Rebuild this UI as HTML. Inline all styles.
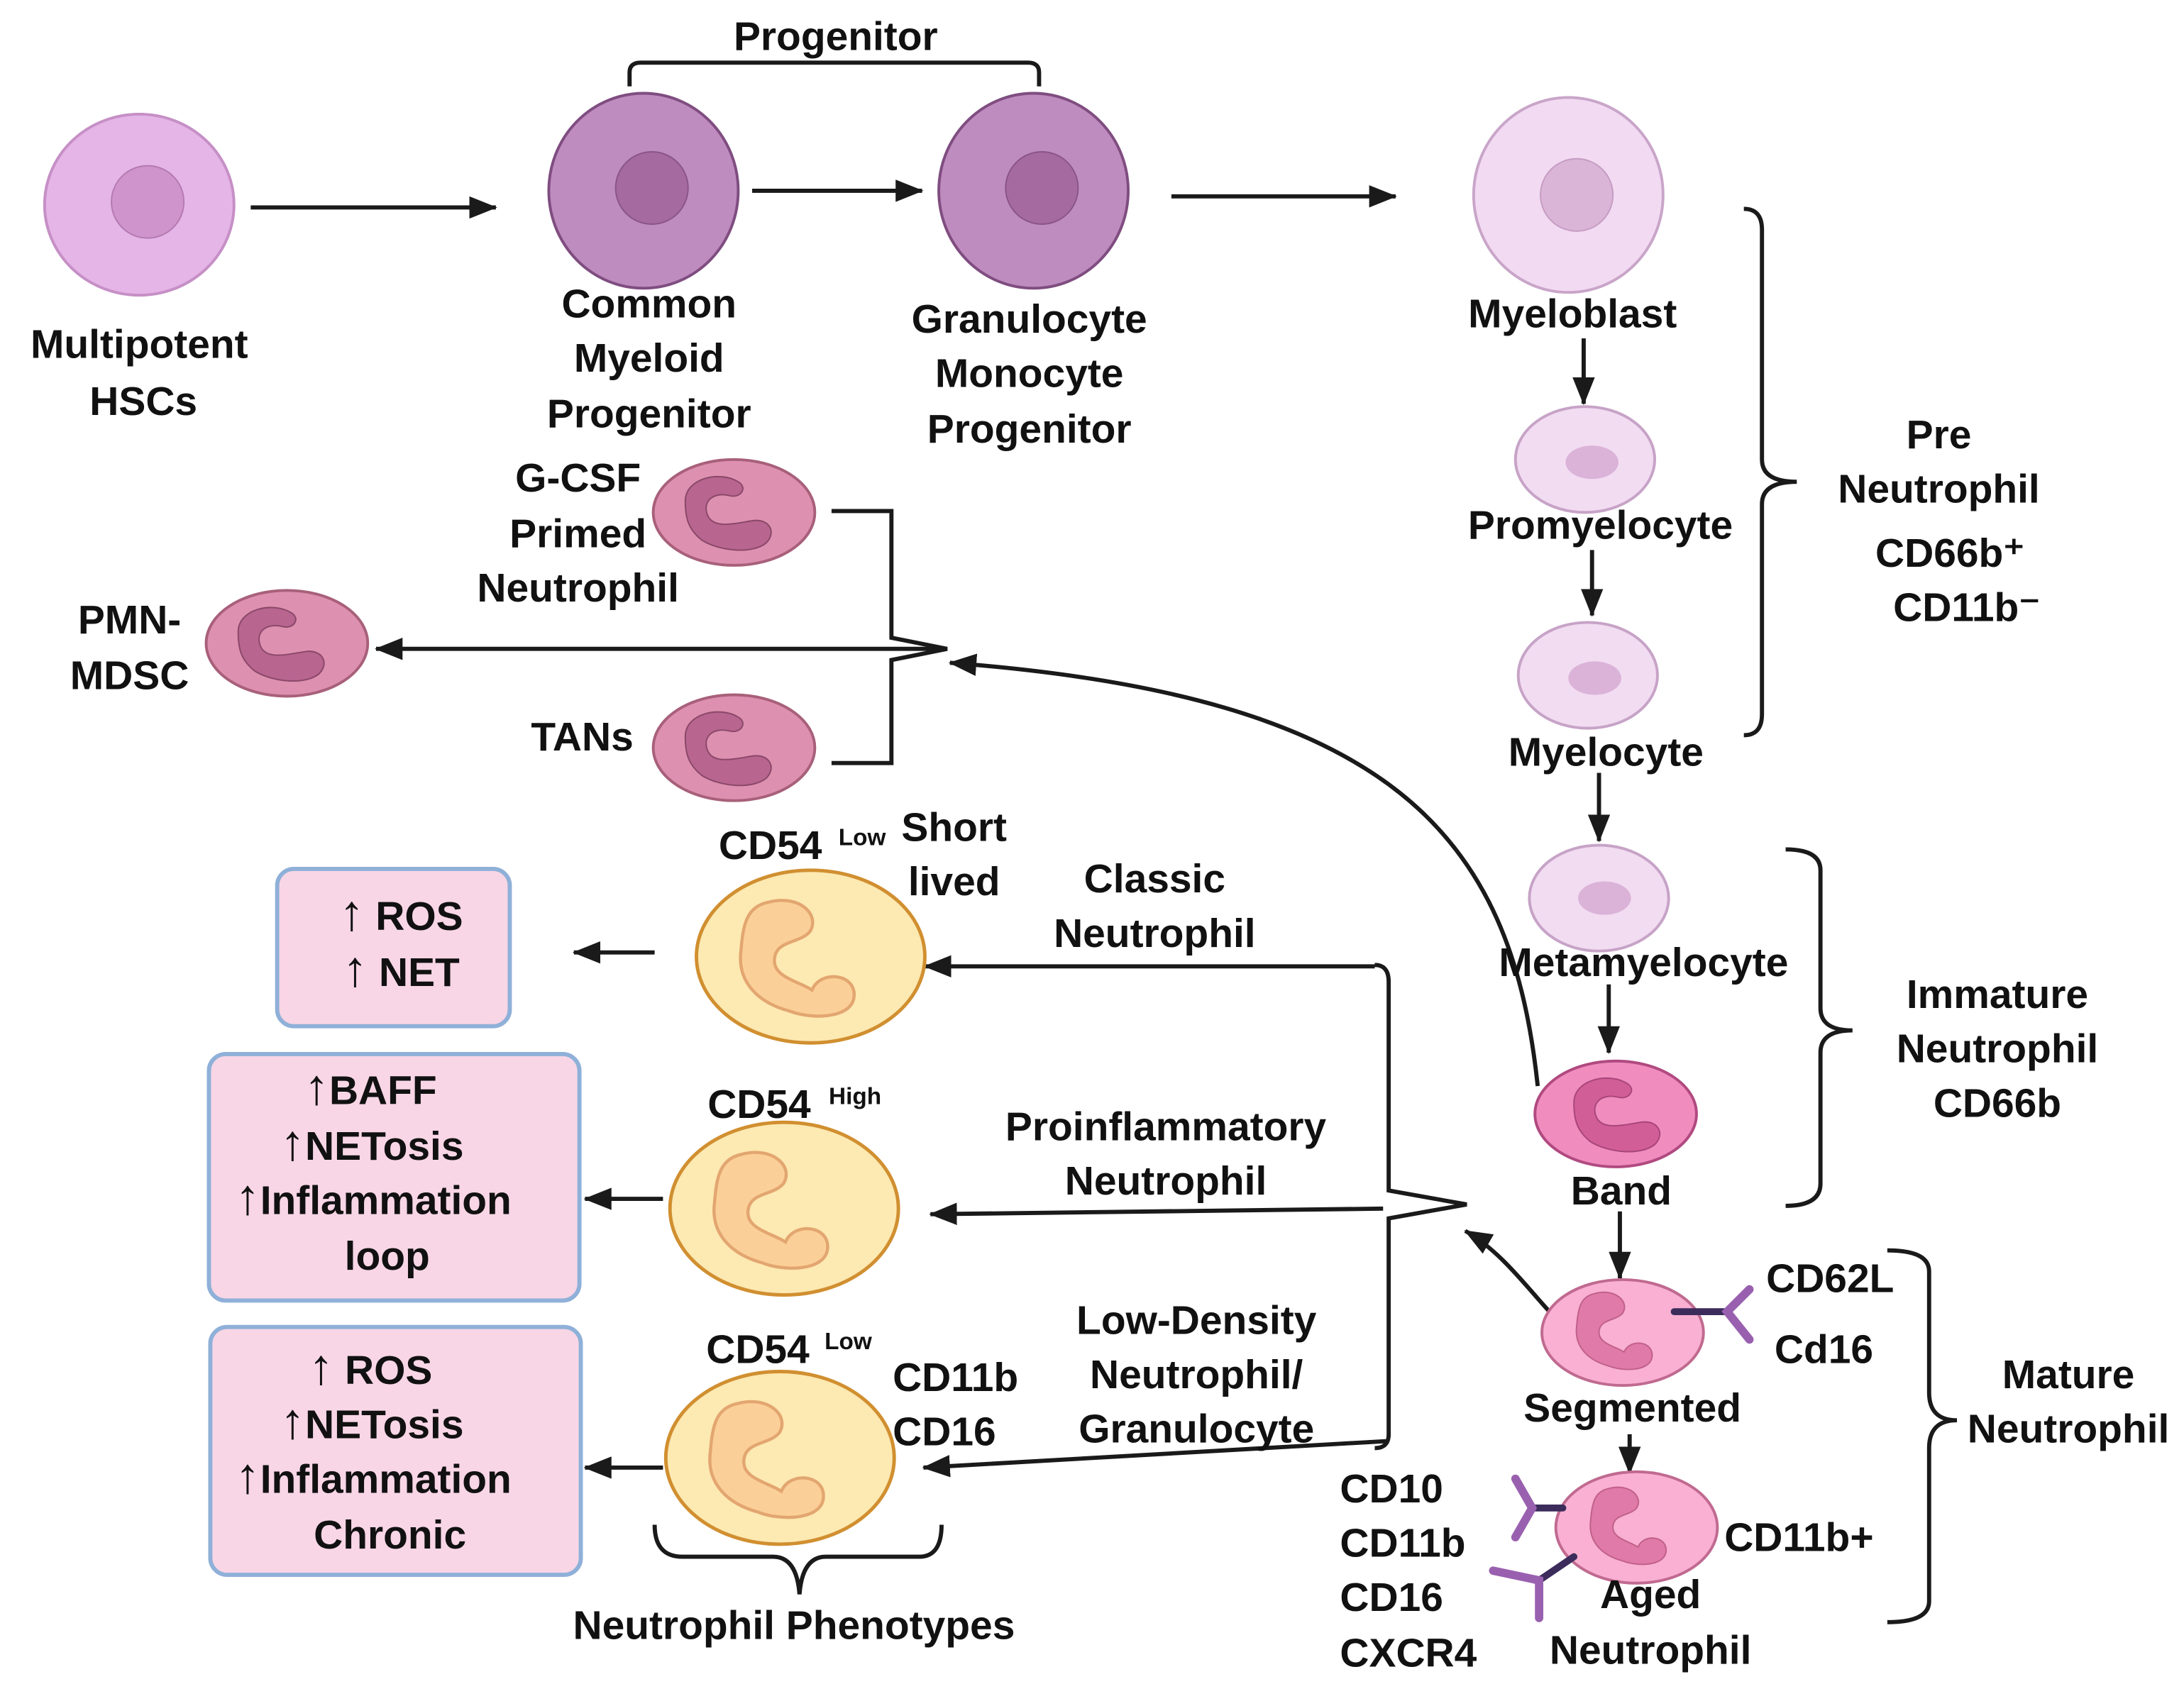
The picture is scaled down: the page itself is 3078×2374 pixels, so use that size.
<!DOCTYPE html>
<html><head><meta charset="utf-8"><style>
html,body{margin:0;padding:0;background:#fff}
svg{display:block}
text{font-family:"Liberation Sans",sans-serif;font-weight:bold;fill:#111}
</style></head><body>
<svg width="3078" height="2374" viewBox="0 0 1568 1209.4" preserveAspectRatio="none" xmlns="http://www.w3.org/2000/svg">
<defs>
<marker id="a2" markerWidth="20" markerHeight="16" refX="19" refY="8" orient="auto" markerUnits="userSpaceOnUse" viewBox="0 0 20 16"><path d="M0,0 L20,8 L0,16Z" fill="#1a1a1a"/></marker>
<path id="nuc" d="M-15,-28 C0,-32 10,-22 5,-14 C0,-8 -12,-10 -12,0 C-12,8 0,10 6,14 C10,4 28,6 26,18 C24,28 5,28 -5,24 C-20,20 -30,10 -28,-5 C-27,-18 -25,-26 -15,-28Z"/>
<path id="band" d="M-30,-8 C-30,-25 -5,-30 8,-22 C15,-18 10,-10 2,-12 C-10,-15 -18,-8 -14,2 C-10,12 5,8 18,6 C30,4 36,14 28,22 C18,30 -5,28 -18,20 C-28,12 -30,4 -30,-8Z"/>
</defs>
<g stroke="#1a1a1a" stroke-width="3" fill="none">
<path d="M180,149 H356" marker-end="url(#a2)"/>
<path d="M540,137 H662" marker-end="url(#a2)"/>
<path d="M841,141 H1002" marker-end="url(#a2)"/>
<path d="M452,62 V52 Q452,45 460,45 H738 Q746,45 746,52 V62"/>
<path d="M1137,243 V290" marker-end="url(#a2)"/>
<path d="M1143,395 V442" marker-end="url(#a2)"/>
<path d="M1148,555 V604" marker-end="url(#a2)"/>
<path d="M1155,707 V756" marker-end="url(#a2)"/>
<path d="M1163,870 V918" marker-end="url(#a2)"/>
<path d="M1170,1030 V1058" marker-end="url(#a2)"/>
<path d="M1252,150 Q1265,150 1265,165 V330 Q1265,346 1290,346 Q1265,346 1265,362 V513 Q1265,528 1252,528"/>
<path d="M1282,610 Q1307,610 1307,625 V724 Q1307,740 1330,740 Q1307,740 1307,756 V850 Q1307,866 1282,866"/>
<path d="M1355,898 Q1385,898 1385,913 V1000 Q1385,1020 1405,1020 Q1385,1020 1385,1040 V1150 Q1385,1165 1355,1165"/>
<path d="M470,1095 Q470,1118 490,1118 H555 Q572,1118 574,1145 Q576,1118 593,1118 H660 Q676,1118 676,1095"/>
<path d="M597,367 H640 V458 L680,466 L640,474 V548 H597"/>
<path d="M680,466 H270" marker-end="url(#a2)"/>
<path d="M1104,780 C1085,600 1000,500 682,476" marker-end="url(#a2)"/>
<path d="M1120,950 C1100,930 1080,900 1052,884" marker-end="url(#a2)"/>
<path d="M987,693 Q997,693 997,705 V855 L1053,865 L997,875 V1030 Q997,1040 987,1040"/>
<path d="M987,694 H664" marker-end="url(#a2)"/>
<path d="M993,868 L668,872" marker-end="url(#a2)"/>
<path d="M995,1035 L663,1054" marker-end="url(#a2)"/>
<path d="M470,684 H412" marker-end="url(#a2)"/>
<path d="M476,861 H420" marker-end="url(#a2)"/>
<path d="M476,1054 H420" marker-end="url(#a2)"/>
</g>
<ellipse cx="100" cy="147" rx="68" ry="65" fill="#e4b5e6" stroke="#c68fc6" stroke-width="2"/>
<circle cx="106" cy="145" r="26" fill="#cf94cb" stroke="#b57ab2"/>
<ellipse cx="462" cy="137" rx="68" ry="70" fill="#bf8cc0" stroke="#7f4d80" stroke-width="2"/>
<circle cx="468" cy="135" r="26" fill="#a56aa0" stroke="#8a5588"/>
<ellipse cx="742" cy="137" rx="68" ry="70" fill="#bf8cc0" stroke="#7f4d80" stroke-width="2"/>
<circle cx="748" cy="135" r="26" fill="#a56aa0" stroke="#8a5588"/>
<ellipse cx="1126" cy="140" rx="68" ry="70" fill="#f2dbf2" stroke="#c9a5c9" stroke-width="2"/>
<circle cx="1132" cy="140" r="26" fill="#dbb5d8" stroke="#c59cc2"/>
<g fill="#f2dcf2" stroke="#c7a3c7" stroke-width="2">
<ellipse cx="1138" cy="330" rx="50" ry="38"/><ellipse cx="1140" cy="485" rx="50" ry="38"/><ellipse cx="1148" cy="645" rx="50" ry="38"/></g>
<g fill="#dbb3d8"><ellipse cx="1143" cy="332" rx="19" ry="12"/><ellipse cx="1145" cy="487" rx="19" ry="12"/><ellipse cx="1152" cy="645" rx="19" ry="12"/></g>
<ellipse cx="1160" cy="800" rx="58" ry="38" fill="#f08cbe" stroke="#b04a80" stroke-width="2"/>
<use href="#band" x="1160" y="800" fill="#d25e98" stroke="#a8467a"/>
<ellipse cx="1165" cy="957" rx="58" ry="38" fill="#f9b0d2" stroke="#c06a90" stroke-width="2"/>
<use href="#nuc" x="1160" y="957" fill="#e07aa8" stroke="#c0608a"/>
<ellipse cx="1175" cy="1097" rx="58" ry="40" fill="#f9b0d2" stroke="#c06a90" stroke-width="2"/>
<use href="#nuc" x="1170" y="1097" fill="#e07aa8" stroke="#c0608a"/>
<g stroke="#3c2c5c" stroke-width="5" stroke-linecap="round"><path d="M1202,942 H1240"/><path d="M1122,1083 H1100"/><path d="M1130,1118 L1105,1135"/></g>
<g stroke="#9960b0" stroke-width="6" fill="none" stroke-linecap="round"><path d="M1256,926 L1240,942 L1256,962"/><path d="M1088,1062 L1100,1083 L1088,1104"/><path d="M1072,1128 L1105,1135 L1105,1162"/></g>
<g fill="#de90b0" stroke="#a8607a" stroke-width="2">
<ellipse cx="527" cy="368" rx="58" ry="38"/><ellipse cx="206" cy="462" rx="58" ry="38"/><ellipse cx="527" cy="537" rx="58" ry="38"/></g>
<g fill="#b86590" stroke="#8a4868"><use href="#band" x="522" y="368"/><use href="#band" x="201" y="462"/><use href="#band" x="522" y="537"/></g>
<g fill="#fde9b2" stroke="#d18f30" stroke-width="2.5">
<ellipse cx="582" cy="687" rx="82" ry="62"/><ellipse cx="563" cy="868" rx="82" ry="62"/><ellipse cx="560" cy="1047" rx="82" ry="62"/></g>
<g fill="#fbcf98" stroke="#e3a670" stroke-width="1.5"><use href="#nuc" transform="translate(574,690) scale(1.5)"/><use href="#nuc" transform="translate(555,871) scale(1.5)"/><use href="#nuc" transform="translate(552,1050) scale(1.5)"/></g>
<g fill="#f8d6e6" stroke="#8fb0d8" stroke-width="3">
<rect x="199" y="624" width="167" height="113" rx="12"/>
<rect x="150" y="757" width="266" height="177" rx="12"/>
<rect x="151" y="953" width="266" height="178" rx="12"/></g>
<g style="font-size:29px" text-anchor="middle">
<text x="600" y="36">Progenitor</text>
<text x="100" y="257">Multipotent</text><text x="103" y="298">HSCs</text>
<text x="466" y="228">Common</text><text x="466" y="267">Myeloid</text><text x="466" y="307">Progenitor</text>
<text x="739" y="239">Granulocyte</text><text x="739" y="278">Monocyte</text><text x="739" y="318">Progenitor</text>
<text x="1129" y="235">Myeloblast</text>
<text x="1149" y="387">Promyelocyte</text>
<text x="1153" y="550">Myelocyte</text>
<text x="1180" y="701">Metamyelocyte</text>
<text x="1164" y="865">Band</text>
<text x="1172" y="1021">Segmented</text>
<text x="1185" y="1155">Aged</text><text x="1185" y="1195">Neutrophil</text>
<text x="1392" y="322">Pre</text><text x="1392" y="361">Neutrophil</text>
<text x="1400" y="407">CD66b⁺</text><text x="1412" y="446">CD11b⁻</text>
<text x="1434" y="724">Immature</text><text x="1434" y="763">Neutrophil</text><text x="1434" y="802">CD66b</text>
<text x="1485" y="997">Mature</text><text x="1485" y="1036">Neutrophil</text>
<text x="415" y="353">G-CSF</text><text x="415" y="393">Primed</text><text x="415" y="432">Neutrophil</text>
<text x="93" y="455">PMN-</text><text x="93" y="495">MDSC</text>
<text x="418" y="539">TANs</text>
<text x="685" y="604">Short</text><text x="685" y="643">lived</text>
<text x="829" y="641">Classic</text><text x="829" y="680">Neutrophil</text>
<text x="837" y="819">Proinflammatory</text><text x="837" y="858">Neutrophil</text>
<text x="859" y="958">Low-Density</text><text x="859" y="997">Neutrophil/</text><text x="859" y="1036">Granulocyte</text>
<text x="570" y="1177">Neutrophil Phenotypes</text>
<text x="686" y="999">CD11b</text><text x="678" y="1038">CD16</text>
<text x="288" y="668"><tspan style="font-size:36px">↑</tspan> ROS</text><text x="288" y="708"><tspan style="font-size:36px">↑</tspan> NET</text>
<text x="266" y="793"><tspan style="font-size:36px">↑</tspan>BAFF</text><text x="267" y="833"><tspan style="font-size:36px">↑</tspan>NETosis</text><text x="268" y="872"><tspan style="font-size:36px">↑</tspan>Inflammation</text><text x="278" y="912">loop</text>
<text x="266" y="994"><tspan style="font-size:36px">↑</tspan> ROS</text><text x="267" y="1033"><tspan style="font-size:36px">↑</tspan>NETosis</text><text x="268" y="1072"><tspan style="font-size:36px">↑</tspan>Inflammation</text><text x="280" y="1112">Chronic</text>
</g>
<g style="font-size:29px">
<text x="516" y="617">CD54</text><text x="602" y="607" style="font-size:17px">Low</text>
<text x="508" y="803">CD54</text><text x="595" y="793" style="font-size:17px">High</text>
<text x="507" y="979">CD54</text><text x="592" y="969" style="font-size:17px">Low</text>
<text x="1268" y="928">CD62L</text><text x="1274" y="979">Cd16</text>
<text x="1238" y="1114">CD11b+</text>
<text x="962" y="1079">CD10</text><text x="962" y="1118">CD11b</text><text x="962" y="1157">CD16</text><text x="962" y="1197">CXCR4</text>
</g>
</svg>
</body></html>
